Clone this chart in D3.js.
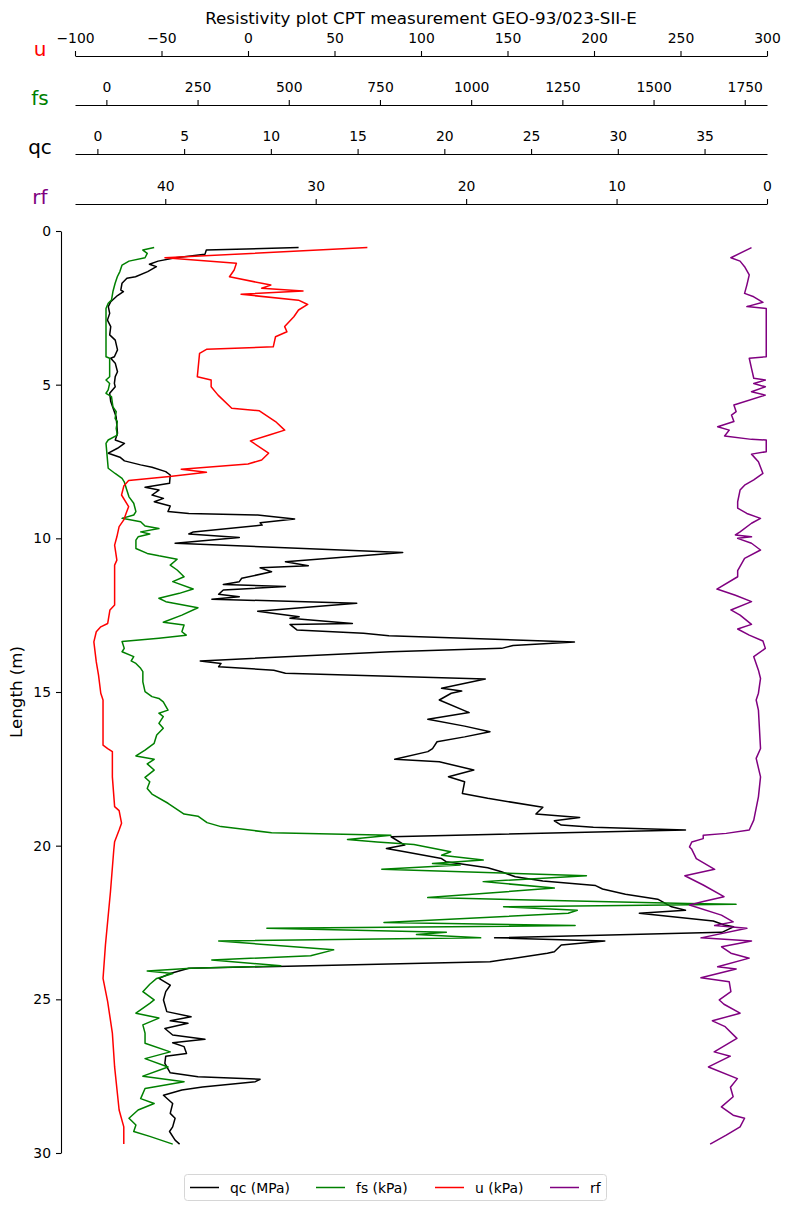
<!DOCTYPE html>
<html>
<head>
<meta charset="utf-8">
<script src="https://cdn.jsdelivr.net/npm/d3@7"></script>
<style>
  body { margin: 0; background: #fff; }
  svg { display: block; font-family: "DejaVu Sans", sans-serif; }
</style>
</head>
<body>
<svg id="chart"></svg>
<script>
const chartTitle = "Resistivity plot CPT measurement GEO-93/023-SII-E";
const depthTicks = [0, 5, 10, 15, 20, 25, 30];
const uTicks = [-100, -50, 0, 50, 100, 150, 200, 250, 300];
const fsTicks = [0, 250, 500, 750, 1000, 1250, 1500, 1750];
const qcTicks = [0, 5, 10, 15, 20, 25, 30, 35];
const rfTicks = [40, 30, 20, 10, 0];
const seriesNames = ["qc (MPa)", "fs (kPa)", "u (kPa)", "rf"];

// [depth (m), value]
const qcData = [[0.54,11.6],[0.62,6.28],[0.76,6.2],[0.87,4.5],[0.98,3.5],[1.08,3.0],[1.16,3.4],[1.32,2.9],[1.49,2.2],[1.54,1.7],[1.70,1.42],[1.92,1.35],[1.97,1.5],[2.1,1.16],[2.3,0.77],[2.46,0.63],[2.68,0.71],[2.9,0.58],[3.11,0.77],[3.38,0.71],[3.55,1.03],[3.87,1.16],[4.09,0.98],[4.14,0.77],[4.3,1.03],[4.58,1.16],[4.74,1.03],[4.96,0.98],[5.07,1.03],[5.28,0.71],[5.55,0.77],[6.04,1.08],[6.58,1.16],[6.8,1.03],[6.91,1.56],[7.07,1.16],[7.23,0.63],[7.36,1.3],[7.48,1.56],[7.61,2.49],[7.69,3.15],[7.83,3.94],[7.94,4.2],[8.21,4.16],[8.34,2.75],[8.43,3.55],[8.59,3.15],[8.7,3.81],[8.81,3.28],[8.95,4.2],[9.13,4.07],[9.19,5.27],[9.24,9.24],[9.37,11.37],[9.49,9.38],[9.57,9.5],[9.79,5.53],[9.86,5.27],[9.97,8.18],[10.16,4.48],[10.46,17.6],[10.76,10.84],[10.89,12.16],[10.96,9.38],[11.09,10.04],[11.3,8.32],[11.41,8.18],[11.5,7.26],[11.57,10.84],[11.68,7.26],[11.82,6.99],[11.9,8.18],[11.98,6.6],[12.11,14.95],[12.37,9.24],[12.55,11.63],[12.6,11.1],[12.77,14.7],[12.8,11.1],[12.98,11.5],[13.09,15.34],[13.17,16.8],[13.37,27.5],[13.49,23.96],[13.58,23.3],[13.69,16.9],[13.99,5.93],[14.07,7.13],[14.18,6.99],[14.29,10.17],[14.39,10.84],[14.58,22.36],[14.88,19.84],[14.97,21.0],[15.04,20.4],[15.26,19.71],[15.67,21.43],[15.89,19.05],[16.11,21.17],[16.29,22.63],[16.46,21.17],[16.62,19.58],[16.84,19.32],[16.94,19.05],[17.19,17.14],[17.27,19.71],[17.54,21.7],[17.76,20.24],[17.92,21.17],[18.3,21.04],[18.46,22.5],[18.75,25.68],[18.97,25.28],[19.08,27.8],[19.19,26.34],[19.33,26.74],[19.4,28.59],[19.49,33.9],[19.71,16.93],[19.98,17.72],[20.09,16.66],[20.2,17.72],[20.42,19.84],[20.52,20.1],[20.72,22.5],[20.85,23.29],[21.01,24.09],[21.15,25.68],[21.3,28.72],[21.41,29.12],[21.58,30.44],[21.74,32.3],[21.99,33.1],[22.1,33.9],[22.2,31.24],[22.45,35.5],[22.58,36.14],[22.64,36.67],[22.82,36.0],[23.0,22.9],[23.1,29.25],[23.23,26.74],[23.45,26.34],[23.5,25.94],[23.78,22.63],[23.99,5.27],[24.16,4.2],[24.32,3.55],[24.54,4.2],[24.75,3.94],[25.02,3.81],[25.4,4.0],[25.57,5.4],[25.7,4.2],[25.78,5.22],[25.95,3.89],[26.16,4.34],[26.3,6.2],[26.41,4.34],[26.54,5.0],[26.76,5.14],[26.85,3.94],[27.08,3.89],[27.39,4.2],[27.52,5.8],[27.6,9.38],[27.68,9.11],[27.85,6.06],[27.95,4.87],[28.12,3.81],[28.39,4.34],[28.71,4.2],[28.87,4.48],[29.15,4.34],[29.3,4.16],[29.58,4.48],[29.71,4.74]];

const fsData = [[0.54,131],[0.62,100],[0.73,112],[0.87,106],[0.98,62],[1.11,43],[1.32,37],[1.49,30],[1.7,24],[1.97,18],[2.25,14],[2.35,5],[2.52,-1],[4.09,-1],[4.14,9],[4.74,9],[4.85,-1],[4.96,9],[5.17,5],[5.28,-1],[5.39,14],[5.72,18],[5.88,27],[6.1,24],[6.2,30],[6.42,27],[6.64,30],[6.8,5],[6.91,-1],[7.72,5],[7.89,24],[8.05,43],[8.16,49],[8.43,56],[8.65,62],[8.86,75],[9.13,81],[9.24,75],[9.35,43],[9.46,94],[9.6,106],[9.68,144],[9.79,94],[9.86,119],[9.95,87],[10.06,81],[10.33,81],[10.49,112],[10.57,144],[10.68,194],[10.87,175],[11.03,194],[11.25,213],[11.41,182],[11.65,238],[11.79,200],[11.95,144],[12.06,163],[12.26,251],[12.5,207],[12.73,156],[12.82,213],[13.04,207],[13.15,219],[13.25,144],[13.36,43],[13.58,49],[13.69,43],[13.85,75],[13.99,68],[14.07,81],[14.23,94],[14.34,100],[14.67,100],[14.99,106],[15.15,125],[15.21,144],[15.32,156],[15.59,169],[15.69,144],[15.8,156],[16.02,144],[16.18,156],[16.4,138],[16.67,131],[16.89,106],[17.08,81],[17.19,131],[17.34,112],[17.54,131],[17.78,106],[17.92,119],[18.14,112],[18.32,125],[18.62,169],[18.97,213],[19.04,251],[19.25,276],[19.38,314],[19.58,453],[19.66,780],[19.8,661],[19.88,742],[19.96,843],[20.2,944],[20.31,919],[20.47,1033],[20.58,894],[20.63,970],[20.77,755],[20.98,1316],[21.17,1033],[21.38,1228],[21.69,881],[21.88,1594],[21.91,1726],[21.99,1089],[22.1,1291],[22.2,1266],[22.5,761],[22.6,1285],[22.69,440],[22.82,932],[22.89,850],[23.0,1026],[23.1,308],[23.39,623],[23.58,560],[23.72,289],[23.91,478],[23.99,232],[24.08,112],[24.16,182],[24.32,138],[24.51,119],[24.75,100],[25.02,131],[25.13,119],[25.45,81],[25.61,144],[25.83,100],[26.1,106],[26.43,106],[26.71,175],[26.93,106],[27.2,169],[27.5,100],[27.68,213],[27.9,106],[28.23,94],[28.39,131],[28.6,87],[28.87,62],[29.09,81],[29.3,75],[29.46,119],[29.71,182]];

const uData = [[0.54,69],[0.87,-48],[1.05,-6.7],[1.27,-8],[1.49,-10.7],[1.76,13.2],[1.86,7.9],[1.95,31.8],[2.06,-4],[2.25,29.2],[2.39,34.5],[2.57,29.2],[2.79,26.5],[3.11,21.2],[3.28,22.5],[3.44,15.9],[3.77,14.6],[3.85,-24],[3.98,-28],[4.74,-29.3],[4.85,-21.3],[5.07,-21.3],[5.34,-17.3],[5.77,-9.4],[5.85,6.6],[6.2,15.9],[6.48,21.2],[6.62,13.2],[6.83,1.4],[7.23,11.9],[7.45,7.9],[7.58,0],[7.75,-38.6],[7.85,-24],[7.99,-45.3],[8.12,-69],[8.3,-71.8],[8.59,-73.1],[8.97,-69],[9.19,-70.5],[9.4,-71.8],[9.62,-74.5],[9.95,-75.8],[10.22,-77.1],[10.71,-75.8],[10.87,-77.1],[12.17,-77.1],[12.33,-79.8],[12.77,-81.1],[12.88,-85.1],[13.04,-87.7],[13.37,-89.1],[14.02,-87.7],[14.45,-86.4],[15.04,-85.1],[15.26,-83.8],[16.73,-83.8],[16.84,-81.1],[16.94,-78.4],[17.76,-78.4],[18.73,-77.1],[18.86,-74.5],[19.27,-73.1],[19.49,-74.5],[19.87,-77.1],[20.15,-77.6],[21.5,-79.5],[23.23,-82.4],[24.32,-83.8],[25.08,-81.1],[26.1,-78.4],[27.2,-77.1],[27.9,-75.8],[28.6,-74.5],[29.15,-71.8],[29.71,-71.8]];

const rfData = [[0.54,1.03],[0.87,2.4],[0.98,1.79],[1.16,1.49],[1.43,1.18],[1.76,1.34],[2.03,1.49],[2.14,0.88],[2.32,0.27],[2.46,1.34],[2.52,0.05],[4.09,0.05],[4.14,1.18],[4.47,1.03],[4.79,0.88],[4.85,0.11],[4.96,0.88],[5.07,0.11],[5.23,1.03],[5.34,0.11],[5.66,2.2],[5.88,2.05],[5.99,2.36],[6.2,2.2],[6.37,3.28],[6.48,2.51],[6.67,2.82],[6.78,1.03],[6.8,0.05],[7.18,0.05],[7.26,1.03],[7.51,0.57],[7.89,0.27],[8.1,0.88],[8.27,1.49],[8.43,1.79],[8.81,1.95],[9.02,1.95],[9.19,1.34],[9.35,0.43],[9.51,1.03],[9.79,1.79],[9.89,2.1],[9.95,1.03],[10.0,1.95],[10.16,1.03],[10.38,0.43],[10.65,1.49],[11.05,1.95],[11.25,1.95],[11.65,3.33],[11.85,2.1],[12.06,1.03],[12.33,2.4],[12.5,1.79],[12.8,1.03],[12.95,1.95],[13.15,1.18],[13.34,0.27],[13.58,0.11],[13.85,0.88],[14.29,0.57],[14.56,0.43],[15.04,0.57],[15.26,0.72],[15.59,0.57],[16.84,0.43],[17.16,0.72],[17.76,0.43],[18.41,0.57],[19.17,0.88],[19.49,1.18],[19.6,2.71],[19.66,4.24],[19.77,4.24],[19.88,5.0],[20.04,5.15],[20.12,5.0],[20.42,4.7],[20.77,3.48],[20.98,5.46],[21.28,4.24],[21.66,2.86],[21.82,4.24],[21.93,5.15],[22.26,3.03],[22.48,2.25],[22.6,3.48],[22.69,1.34],[23.0,4.39],[23.1,1.03],[23.29,3.02],[23.5,2.4],[23.66,1.18],[23.94,3.28],[24.01,2.05],[24.3,4.39],[24.43,2.51],[24.75,2.4],[25.02,3.17],[25.16,2.86],[25.45,1.79],[25.7,3.63],[25.89,2.78],[26.27,2.0],[26.71,3.51],[26.85,2.44],[27.2,3.89],[27.58,1.97],[27.86,2.43],[28.17,2.25],[28.5,3.03],[28.77,2.25],[28.87,1.49],[29.15,1.79],[29.42,2.71],[29.71,3.78]];

const chartSettings = {
  width: 790,
  height: 1207,
  plotLeft: 75,
  plotRight: 767,
  plotTop: 231,
  plotBottom: 1153,
  yAxisX: 61,
  tickFont: 13.9,
  labelFont: 16.7
};

const svg = d3.select("#chart")
  .attr("width", chartSettings.width)
  .attr("height", chartSettings.height);

const yScale = d3.scaleLinear()
  .domain([0, 30])
  .range([chartSettings.plotTop, chartSettings.plotBottom]);

const xRange = [chartSettings.plotLeft, chartSettings.plotRight];
const uScale = d3.scaleLinear().domain([-100, 300]).range(xRange);
const fsScale = d3.scaleLinear().domain([-86, 1811]).range(xRange);
const qcScale = d3.scaleLinear().domain([-1.29, 38.6]).range(xRange);
const rfScale = d3.scaleLinear().domain([46, 0]).range(xRange);

const topAxes = [
  { name: "u", color: "red", scale: uScale, ticks: uTicks, y: 56 },
  { name: "fs", color: "green", scale: fsScale, ticks: fsTicks, y: 105 },
  { name: "qc", color: "black", scale: qcScale, ticks: qcTicks, y: 154 },
  { name: "rf", color: "purple", scale: rfScale, ticks: rfTicks, y: 204 }
];

function styleAxis(g) {
  g.selectAll("path.domain").attr("stroke", "#000").attr("stroke-width", 1.1);
  g.selectAll(".tick line").attr("stroke", "#000").attr("stroke-width", 1.1);
  g.selectAll(".tick text")
    .attr("fill", "#000")
    .style("font-size", chartSettings.tickFont + "px")
    .style("font-family", "DejaVu Sans, sans-serif");
}

// title
svg.append("text")
  .attr("x", (chartSettings.plotLeft + chartSettings.plotRight) / 2)
  .attr("y", 24)
  .attr("text-anchor", "middle")
  .style("font-size", chartSettings.labelFont + "px")
  .text(chartTitle);

// stacked top axes
topAxes.forEach(({ name, color, scale, ticks, y }) => {
  svg.append("g")
    .attr("transform", `translate(0,${y})`)
    .call(d3.axisTop(scale)
      .tickValues(ticks)
      .tickFormat(d3.format("d"))
      .tickSize(5)
      .tickSizeOuter(0)
      .tickPadding(8))
    .call(styleAxis);

  svg.append("text")
    .attr("x", 40)
    .attr("y", y)
    .attr("text-anchor", "middle")
    .attr("fill", color)
    .style("font-size", "20px")
    .text(name);
});

// depth axis
svg.append("g")
  .attr("transform", `translate(${chartSettings.yAxisX},0)`)
  .call(d3.axisLeft(yScale)
    .tickValues(depthTicks)
    .tickFormat(d3.format("d"))
    .tickSize(5)
    .tickSizeOuter(0)
    .tickPadding(5))
  .call(styleAxis);

svg.append("text")
  .attr("transform", `translate(22,${(chartSettings.plotTop + chartSettings.plotBottom) / 2}) rotate(-90)`)
  .attr("text-anchor", "middle")
  .style("font-size", chartSettings.labelFont + "px")
  .text("Length (m)");

// curves
svg.append("clipPath")
  .attr("id", "plot-clip")
  .append("rect")
  .attr("x", chartSettings.plotLeft - 2)
  .attr("y", chartSettings.plotTop - 2)
  .attr("width", chartSettings.plotRight - chartSettings.plotLeft + 4)
  .attr("height", chartSettings.plotBottom - chartSettings.plotTop + 4);

const series = [
  { data: qcData, scale: qcScale, color: "black" },
  { data: fsData, scale: fsScale, color: "green" },
  { data: uData, scale: uScale, color: "red" },
  { data: rfData, scale: rfScale, color: "purple" }
];

const lines = svg.append("g").attr("clip-path", "url(#plot-clip)");

series.forEach(({ data, scale, color }) => {
  const line = d3.line()
    .x(d => scale(d[1]))
    .y(d => yScale(d[0]));

  lines.append("path")
    .datum(data)
    .attr("fill", "none")
    .attr("stroke", color)
    .attr("stroke-width", 1.5)
    .attr("stroke-linejoin", "round")
    .attr("d", line);
});

// legend
const legendX = [190, 316, 435, 550];
const legend = svg.append("g");

legend.append("rect")
  .attr("x", 184.5)
  .attr("y", 1174.5)
  .attr("width", 422)
  .attr("height", 26)
  .attr("rx", 3)
  .attr("fill", "#fff")
  .attr("stroke", "#d6d6d6");

seriesNames.forEach((name, i) => {
  legend.append("line")
    .attr("x1", legendX[i])
    .attr("x2", legendX[i] + 29)
    .attr("y1", 1187.5)
    .attr("y2", 1187.5)
    .attr("stroke", series[i].color)
    .attr("stroke-width", 1.5);

  legend.append("text")
    .attr("x", legendX[i] + 40)
    .attr("y", 1192.5)
    .style("font-size", chartSettings.tickFont + "px")
    .text(name);
});
</script>
</body>
</html>
